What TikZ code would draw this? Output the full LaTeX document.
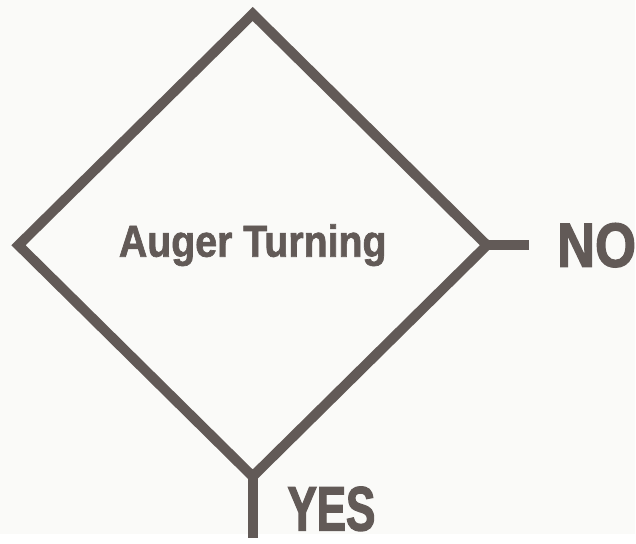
\documentclass[tikz,border=0pt]{standalone}
\usepackage{fontspec}
\usetikzlibrary{positioning}
\usetikzlibrary{shapes.geometric}
\newfontfamily\answerfont[FakeStretch=0.70,FakeBold=2]{Liberation Sans}
\newfontfamily\nofont[FakeStretch=0.84,FakeBold=2]{Liberation Sans}
\newfontfamily\questfont[FakeStretch=0.88,FakeBold=1.5]{Liberation Sans}
\definecolor{inkgray}{RGB}{98,90,87}
\definecolor{paper}{RGB}{250,250,248}
\begin{document}
\begin{tikzpicture}
	[	x=0.75pt, y=-0.75pt,			% pixel grid, y down
		ink/.style={draw=inkgray, line width=7.5pt},
		answer/.style={inner sep=0pt, text=inkgray, font=\answerfont\bfseries\fontsize{47}{47}\selectfont},
		question/.style={diamond, ink, inner sep=0pt, outer sep=0pt, text=inkgray,
			minimum width=351.75pt, minimum height=347.25pt,
			font=\questfont\bfseries\fontsize{33.5}{33.5}\selectfont}	]
	\fill[paper] (0,0) rectangle (636,535);						% background
	\node[question] (auger) at (253,245.5) {Auger Turning};		% decision
	\draw[ink] (auger.east) -- +(42,0) coordinate (noend);		% NO branch
	\draw[ink] (auger.south) -- +(0,62) coordinate (yesend);	% YES branch
	\node[answer, font=\nofont\bfseries\fontsize{47}{47}\selectfont, right=21pt of noend] (no) {NO};
	\node[answer, below right=7.5pt and 26pt of auger.south] (yes) {YES};
\end{tikzpicture}
\end{document}
